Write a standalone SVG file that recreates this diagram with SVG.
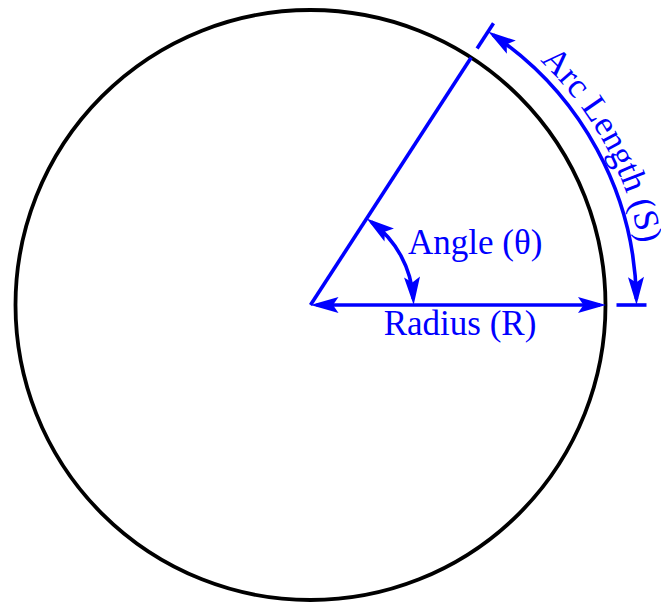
<svg xmlns="http://www.w3.org/2000/svg" xmlns:xlink="http://www.w3.org/1999/xlink" width="661" height="604" viewBox="0 0 661 604">
  <style>
    .dim { fill: none; stroke: #0000ff; stroke-width: 3.6; }
    .lbl { fill: #0000ff; font-family: "Liberation Serif", "Times New Roman", serif; font-size: 35px; }
  </style>
  <defs>
    <marker id="ah" markerUnits="userSpaceOnUse" orient="auto-start-reverse" refX="0" refY="0" markerWidth="40" markerHeight="20" overflow="visible">
      <path d="M6,0 L-22,-8 L-16.5,0 L-22,8 Z" fill="#0000ff"/>
    </marker>
    <path id="arcText" d="M539.8,60.8 A335,335 0 0 1 644.2,334.2"/>
  </defs>
  <rect width="661" height="604" fill="#ffffff"/>
  <g id="circle">
    <circle cx="310.5" cy="305" r="295" fill="none" stroke="#000000" stroke-width="3.8"/>
  </g>
  <g id="connectors">
    <line class="dim" x1="310.5" y1="305" x2="471.2" y2="57.6"/>
    <path class="dim" d="M316.5,305 L600,305" marker-start="url(#ah)" marker-end="url(#ah)"/>
    <path class="dim" d="M371.5,222 A103,103 0 0 1 413.3,299" marker-start="url(#ah)" marker-end="url(#ah)"/>
    <path class="dim" d="M493.1,34.9 A326,326 0 0 1 636.4,299" marker-start="url(#ah)" marker-end="url(#ah)"/>
    <line class="dim" x1="477.1" y1="48.4" x2="493.5" y2="23.2"/>
    <line class="dim" x1="616.5" y1="305" x2="646.5" y2="305"/>
  </g>
  <g id="label-angle">
    <text class="lbl" x="408" y="254">Angle (θ)</text>
  </g>
  <g id="label-radius">
    <text class="lbl" x="460" y="335" text-anchor="middle">Radius (R)</text>
  </g>
  <g id="label-arc">
    <text class="lbl"><textPath href="#arcText" xlink:href="#arcText">Arc Length (S)</textPath></text>
  </g>
</svg>
